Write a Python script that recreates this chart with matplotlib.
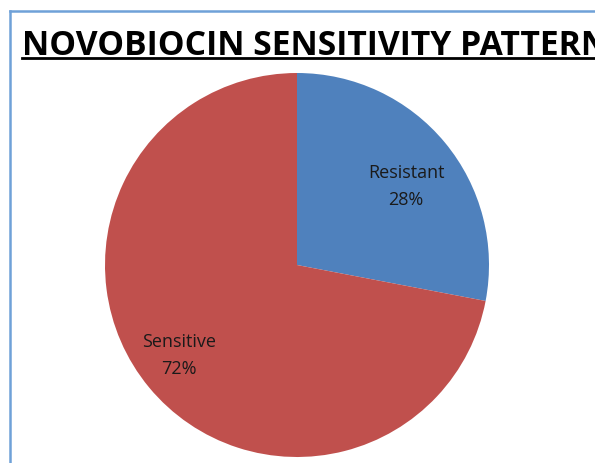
import numpy as np
import matplotlib.pyplot as plt
from matplotlib.lines import Line2D

# data
labels = ['Resistant', 'Sensitive']
values = [28, 72]
colors = ['#4F81BD', '#C0504D']
title = 'NOVOBIOCIN SENSITIVITY PATTERN'

W, H = 595, 463
fig = plt.figure(figsize=(W / 100, H / 100), dpi=100)

# chart frame (light blue border, cut off at right/bottom)
fig.add_artist(Line2D([10 / W, 1], [1 - 11 / H, 1 - 11 / H], color='#6FA1D8', lw=1.8))
fig.add_artist(Line2D([10 / W, 10 / W], [0, 1 - 11 / H], color='#6FA1D8', lw=1.8))

# title with underline (cut off at the right edge, as in the source)
fig.text(22 / W, 1 - 55 / H, title, fontsize=24.2, fontweight='bold',
         family='Open Sans', ha='left', va='baseline', color='black')
fig.add_artist(Line2D([22 / W, 1], [1 - 58 / H, 1 - 58 / H], color='black', lw=2))

# pie
cx, cy, r = 297, 463 - 265, 192
ax = fig.add_axes([(cx - r) / W, (cy - r) / H, 2 * r / W, 2 * r / H])
wedges, texts = ax.pie(values, colors=colors, startangle=90, counterclock=False,
                       labels=[f'{l}\n{v}%' for l, v in zip(labels, values)],
                       textprops=dict(fontsize=13, family='Open Sans', ha='center',
                                      va='center', linespacing=1.65, color='#1a1a1a'))
# per-slice label placement (distance, angle tweak)
for w, t, d, da in zip(wedges, texts, [0.70, 0.776], [-3.8, -2.0]):
    ang = np.deg2rad((w.theta1 + w.theta2) / 2 + da)
    t.set_position((d * np.cos(ang), d * np.sin(ang)))
    t.set_ha('center')
ax.set_xlim(-1, 1)
ax.set_ylim(-1, 1)
ax.set_aspect('equal')
ax.axis('off')

fig.savefig('out.png', dpi=100)
